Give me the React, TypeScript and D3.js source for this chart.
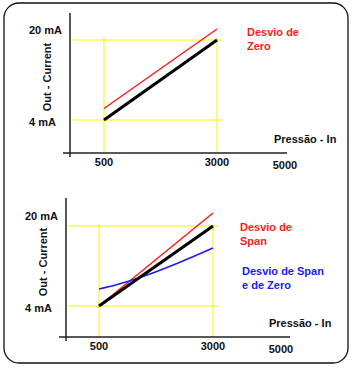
import * as d3 from 'd3';
import { useEffect, useRef } from 'react';

const FONT = '"Liberation Sans", Arial, sans-serif';
const YELLOW = '#f5f500';
const RED = '#ff1a1a';
const BLUE = '#1a1aff';

// pressure ticks (In) and current limits (mA)
const xTicks = [500, 3000, 5000];
const rangeLow = 4;
const rangeHigh = 20;

// ideal calibration line
const idealLine = [
    { p: 500, i: 4 },
    { p: 3000, i: 20 },
];

// top chart: zero shift
const zeroShift = [
    { p: 500, i: 6.3 },
    { p: 3000, i: 22.2 },
];

// bottom chart: span shift and span + zero shift
const spanShift = [
    { p: 500, i: 4 },
    { p: 3000, i: 22.6 },
];
const spanZeroShift = [
    { p: 500, i: 7.4 },
    { p: 900, i: 8.3 },
    { p: 3000, i: 15.6 },
];

export default function App() {
    const ref = useRef<any>();

    useEffect(() => {
        const svg = d3.select<any, any>(ref.current);
        svg.selectAll('*').remove();

        svg.append('rect')
            .attr('x', 4).attr('y', 3)
            .attr('width', 344).attr('height', 360)
            .attr('rx', 15)
            .attr('fill', 'white')
            .attr('stroke', '#111')
            .attr('stroke-width', 1.3);

        function panel(opts: any) {
            const g = svg.append('g');
            const x = d3.scaleLinear().domain(xTicks).range(opts.xRange);
            const y = d3.scaleLinear().domain([rangeLow, rangeHigh]).range(opts.yRange);
            const axisY = opts.axisY;
            const axisX = opts.axisX;

            // yellow guide lines
            [500, 3000].forEach((v) => {
                g.append('line')
                    .attr('x1', x(v)).attr('x2', x(v))
                    .attr('y1', y(rangeHigh) - 2).attr('y2', axisY)
                    .attr('stroke', YELLOW).attr('stroke-width', 1);
            });
            [rangeLow, rangeHigh].forEach((v) => {
                g.append('line')
                    .attr('x1', axisX + 2).attr('x2', x(3000) + 5)
                    .attr('y1', y(v)).attr('y2', y(v))
                    .attr('stroke', YELLOW).attr('stroke-width', 1);
            });

            // axes
            g.append('line')
                .attr('x1', axisX - 7).attr('x2', opts.xEnd)
                .attr('y1', axisY).attr('y2', axisY)
                .attr('stroke', '#222').attr('stroke-width', 1.5);
            g.append('line')
                .attr('x1', axisX).attr('x2', axisX)
                .attr('y1', opts.yTop).attr('y2', axisY + 4)
                .attr('stroke', '#222').attr('stroke-width', 1.5);

            const line = d3.line<any>().x((d) => x(d.p)).y((d) => y(d.i));

            opts.series.forEach((s: any) => {
                g.append('path')
                    .datum(s.data)
                    .attr('d', s.curve ? line.curve(d3.curveMonotoneX)(s.data) : line.curve(d3.curveLinear)(s.data))
                    .attr('fill', 'none')
                    .attr('stroke', s.color)
                    .attr('stroke-width', s.width);
            });

            const text = (tx: number, ty: number, str: string, color = '#111', anchor = 'start') =>
                g.append('text')
                    .attr('x', tx).attr('y', ty)
                    .attr('font-family', FONT)
                    .attr('font-size', 11)
                    .attr('font-weight', 'bold')
                    .attr('fill', color)
                    .attr('text-anchor', anchor)
                    .text(str);

            xTicks.forEach((v, k) => {
                text(x(v), axisY + 13 + (k === 2 ? 3 : 0), String(v), '#111', 'middle');
            });
            text(axisX - 41, y(rangeHigh) - 6, '20 mA');
            text(axisX - 41, y(rangeLow) + 6, '4 mA');

            g.append('text')
                .attr('transform', `translate(${axisX - 19}, ${opts.titleY}) rotate(-90)`)
                .attr('font-family', FONT)
                .attr('font-size', 11)
                .attr('font-weight', 'bold')
                .attr('fill', '#111')
                .attr('text-anchor', 'middle')
                .text('Out - Current');

            text(opts.pressX, axisY - 10, 'Pressão - In');

            opts.notes.forEach((n: any) => {
                n.lines.forEach((l: string, k: number) => text(n.x, n.y + k * 14, l, n.color));
            });
        }

        panel({
            xRange: [104, 217, 285],
            yRange: [120, 40],
            axisY: 153,
            axisX: 70,
            xEnd: 287,
            yTop: 13,
            titleY: 77,
            pressX: 274,
            series: [
                { data: zeroShift, color: RED, width: 1.5 },
                { data: idealLine, color: '#000', width: 3 },
            ],
            notes: [
                { x: 247, y: 36, color: RED, lines: ['Desvio de', 'Zero'] },
            ],
        });

        panel({
            xRange: [99, 213, 281],
            yRange: [306, 226],
            axisY: 337,
            axisX: 66,
            xEnd: 290,
            yTop: 198,
            titleY: 262,
            pressX: 269,
            series: [
                { data: spanShift, color: RED, width: 1.5 },
                { data: spanZeroShift, color: BLUE, width: 1.5, curve: true },
                { data: idealLine, color: '#000', width: 3 },
            ],
            notes: [
                { x: 240, y: 231, color: RED, lines: ['Desvio de', 'Span'] },
                { x: 242, y: 275, color: BLUE, lines: ['Desvio de Span', 'e de Zero'] },
            ],
        });
    });

    return (
        <svg ref={ref} width={354} height={369} style={{ position: 'absolute', left: 0, top: 0 }}></svg>
    );
}
